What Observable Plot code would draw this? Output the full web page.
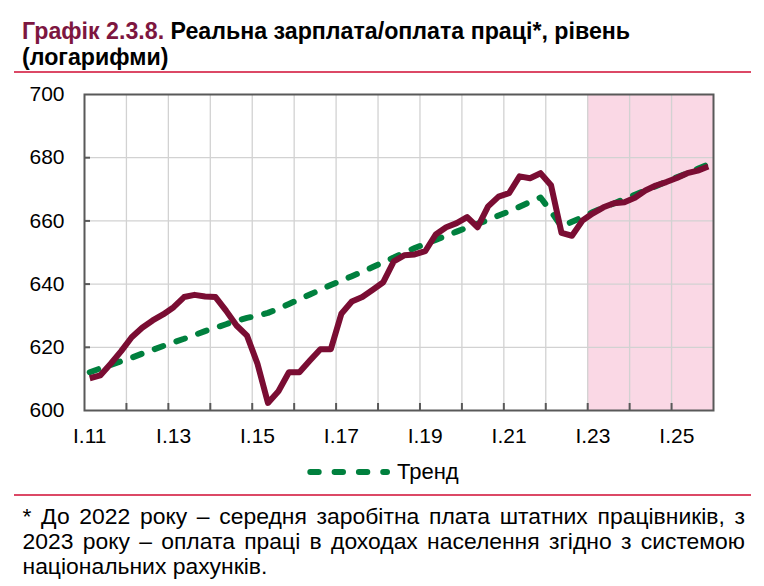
<!DOCTYPE html>
<html><head><meta charset="utf-8">
<script src="https://cdn.jsdelivr.net/npm/d3@7"></script>
<script src="https://cdn.jsdelivr.net/npm/@observablehq/plot@0.6"></script>
<style>
body{margin:0;background:#fff;}
#c{position:relative;width:764px;height:586px;font-family:"Liberation Sans",Arial,sans-serif;color:#000;overflow:hidden;background:#fff}
#title{position:absolute;left:22px;top:17.8px;font-size:23.2px;line-height:26px;font-weight:bold;white-space:nowrap}
#title .num{color:#7d1640}
.rule{position:absolute;left:14px;width:737px;height:2px;background:#dc4866}
#plot{position:absolute;left:0;top:76px}
#legend{position:absolute;left:304px;top:459px;height:26px;display:flex;align-items:center;font-size:22px;line-height:26px}
#legend svg{display:block;margin-right:3px}
#foot{position:absolute;left:22.5px;top:503.5px;width:722.5px;font-size:22.9px;line-height:25.3px}
#foot .j{text-align:justify;text-align-last:justify}
</style></head><body>
<div id="c">
  <div id="title"><span class="num">Графік 2.3.8.</span> Реальна зарплата/оплата праці*, рівень<br>(логарифми)</div>
  <div class="rule" style="top:71px"></div>
  <div id="plot"></div>
  <div id="legend"><svg width="90" height="12"><line x1="6.3" y1="6" x2="83" y2="6" stroke="#00803e" stroke-width="6" stroke-linecap="round" stroke-dasharray="8.4,15.9"/></svg><span>Тренд</span></div>
  <div class="rule" style="top:493.5px"></div>
  <div id="foot">
    <div class="j">* До 2022 року – середня заробітна плата штатних працівників, з</div>
    <div class="j">2023 року – оплата праці в доходах населення згідно з системою</div>
    <div>національних рахунків.</div>
  </div>
</div>
<script>
// Quarterly series, 2011Q1 … 2025Q4
const firstYear = 2011;
const wage = [
  610.2, 611.1, 614.8, 618.8,
  623.2, 626.2, 628.5, 630.4,
  632.7, 635.9, 636.6, 636.1,
  635.9, 631.6, 626.9, 623.7,
  614.8, 602.4, 606.1, 612.1,
  612.1, 615.8, 619.4, 619.4,
  630.6, 634.5, 635.9, 638.2,
  640.6, 647.2, 649.1, 649.4,
  650.4, 655.7, 658.0, 659.3,
  661.2, 658.0, 664.6, 667.7,
  668.8, 674.1, 673.5, 675.1,
  671.3, 656.2, 655.3, 660.1,
  662.4, 664.3, 665.6, 665.9,
  667.3, 669.6, 671.2, 672.3,
  673.6, 675.1, 675.9, 677.2
];
const trend = [
  612.1, 613.3, 614.4, 615.6,
  616.7, 618.0, 619.2, 620.4,
  621.6, 622.7, 623.9, 625.1,
  626.2, 627.3, 628.4, 629.3,
  630.0, 630.9, 632.2, 633.7,
  635.2, 636.7, 638.2, 639.7,
  641.1, 642.5, 643.9, 645.4,
  646.9, 648.4, 650.0, 651.4,
  652.7, 654.0, 655.3, 656.6,
  657.9, 659.1, 660.3, 661.7,
  663.0, 664.5, 666.0, 667.4,
  663.0, 658.2, 659.7, 661.2,
  662.8, 664.2, 665.5, 666.9,
  668.3, 669.6, 671.0, 672.4,
  673.8, 675.1, 676.5, 677.9
];
const forecastPeriod = [{start: 2023, end: 2026}];
const labelYears = [2011, 2013, 2015, 2017, 2019, 2021, 2023, 2025];
const gridYears = [2012, 2013, 2014, 2015, 2016, 2017, 2018, 2019, 2020, 2021, 2022, 2023, 2024, 2025];
const yTicks = [600, 620, 640, 660, 680, 700];
const xDomain = [2011, 2026];
const yDomain = [600, 700];

const rows = wage.map((v, i) => ({t: firstYear + (i + 0.5) / 4, wage: v, trend: trend[i]}));

const W = 764, H = 376, mT = 18, mL = 84, mR = 51, mB = 42;
const innerH = H - mT - mB, innerW = W - mL - mR;

const chart = Plot.plot({
  width: W, height: H,
  marginTop: mT, marginLeft: mL, marginRight: mR, marginBottom: mB,
  x: {domain: xDomain},
  y: {domain: yDomain},
  style: {fontFamily: "Liberation Sans, Arial, sans-serif", fontSize: "21px", color: "#000", background: "transparent", overflow: "visible"},
  marks: [
    Plot.rect(forecastPeriod, {x1: "start", x2: "end", fill: "#fad8e5"}),
    Plot.gridX(gridYears, {stroke: "#d2d2d2", strokeOpacity: 1, strokeWidth: 1.3}),
    Plot.gridY(yTicks.slice(1, -1), {stroke: "#d2d2d2", strokeOpacity: 1, strokeWidth: 1.3}),
    Plot.tickX(gridYears, {x: d => d, stroke: "#595959", strokeWidth: 2, insetTop: innerH - 7}),
    Plot.tickY(yTicks.slice(1, -1), {y: d => d, stroke: "#595959", strokeWidth: 2, insetRight: innerW - 6}),
    Plot.line(rows, {x: "t", y: "trend", stroke: "#00803e", strokeWidth: 6, strokeDasharray: "9,14", strokeLinecap: "round", strokeLinejoin: "round"}),
    Plot.line(rows, {x: "t", y: "wage", stroke: "#7a0d33", strokeWidth: 6, strokeLinejoin: "round", strokeLinecap: "butt"}),
    Plot.frame({stroke: "#595959", strokeWidth: 2}),
    Plot.axisY(yTicks, {tickSize: 0, tickPadding: 20}),
    Plot.axisX(labelYears.map(y => y + 0.125), {tickSize: 0, tickPadding: 18, tickFormat: d => "I." + String(Math.round(d - 0.125)).slice(2)})
  ]
});
document.getElementById("plot").appendChild(chart);
</script>
</body></html>
